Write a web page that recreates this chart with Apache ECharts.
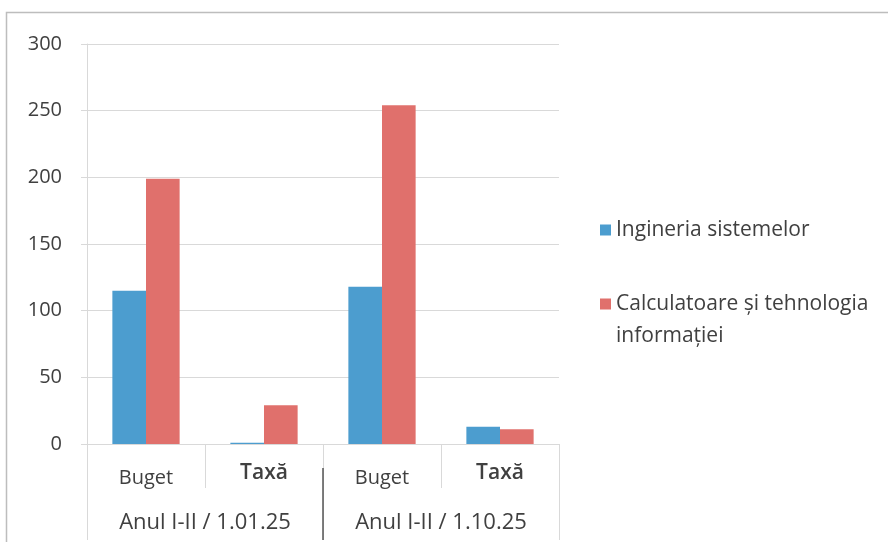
<!DOCTYPE html>
<html>
<head>
<meta charset="utf-8">
<script src="https://cdn.jsdelivr.net/npm/echarts@6/dist/echarts.min.js"></script>
<style>
  html, body { margin: 0; padding: 0; background: #fff; }
  #chart { width: 888px; height: 542px; }
</style>
</head>
<body>
<div id="chart"></div>
<script>
// Categories: admission type within each period
const categories = ['Buget', 'Taxă', 'Buget', 'Taxă'];
// Period groups (second level of the category axis)
const groups = ['Anul I-II / 1.01.25', 'Anul I-II / 1.10.25'];
// Series values
const seriesNames = ['Ingineria sistemelor', 'Calculatoare și tehnologia informației'];
const inginerie = [115, 1, 118, 13];
const calculatoare = [199, 29, 254, 11];
// Value axis ticks
const yMin = 0, yMax = 300, yStep = 50;

const FONT = 'Open Sans';
const TEXT = '#404040';
const GRID = '#d9d9d9';

// square marker sitting at the top of a taller legend item, so a two-line
// label lines its first row up with the marker
const topSquare = 'path://M0,0L11,0L11,11L0,11Z M0,43L11,43Z';

const chart = echarts.init(document.getElementById('chart'), null, { renderer: 'canvas' });

chart.setOption({
  animation: false,
  backgroundColor: '#ffffff',
  textStyle: { fontFamily: FONT },
  grid: { left: 87, top: 44, width: 472, height: 400, containLabel: false },
  legend: [
    {
      data: [seriesNames[0]],
      left: 600, top: 215, padding: 0,
      orient: 'vertical',
      icon: 'rect', itemWidth: 11, itemHeight: 11,
      selectedMode: false,
      textStyle: { fontFamily: FONT, fontSize: 21, color: TEXT, lineHeight: 30 }
    },
    {
      data: [seriesNames[1]],
      left: 600, top: 288, padding: 0,
      orient: 'vertical',
      icon: topSquare, itemWidth: 11, itemHeight: 43,
      selectedMode: false,
      formatter: function (name) { return name.replace(' informației', '\ninformației'); },
      textStyle: { fontFamily: FONT, fontSize: 21, color: TEXT, lineHeight: 32 }
    }
  ],
  xAxis: [
    {
      type: 'category',
      data: categories,
      axisLine: { lineStyle: { color: GRID } },
      axisTick: { show: true, interval: 0, length: 44, lineStyle: { color: GRID } },
      axisLabel: {
        interval: 0,
        margin: 19,
        formatter: function (v) { return v === 'Taxă' ? '{t|' + v + '}' : '{b|' + v + '}'; },
        rich: {
          b: { fontFamily: FONT, fontSize: 20, color: TEXT, padding: [5, 0, 0, 0] },
          t: { fontFamily: FONT, fontSize: 21, fontWeight: 600, color: TEXT }
        }
      }
    },
    {
      type: 'category',
      data: groups,
      position: 'bottom',
      axisLine: { show: false },
      axisTick: { show: true, interval: 0, length: 96, lineStyle: { color: GRID } },
      axisLabel: { interval: 0, margin: 68, fontFamily: FONT, fontSize: 22, color: TEXT }
    },
    {
      // separator between the two periods
      type: 'category',
      data: ['', '', ''],
      boundaryGap: false,
      position: 'bottom',
      offset: 24,
      axisLine: { show: false },
      axisTick: {
        show: true, length: 72,
        interval: function (i) { return i === 1; },
        lineStyle: { color: '#555555', width: 1.5 }
      },
      axisLabel: { show: false }
    }
  ],
  yAxis: {
    type: 'value',
    min: yMin, max: yMax, interval: yStep,
    axisLine: { show: true, lineStyle: { color: GRID } },
    axisTick: { show: true, length: 6, lineStyle: { color: GRID } },
    splitLine: { lineStyle: { color: GRID } },
    axisLabel: { margin: 25, fontFamily: FONT, fontSize: 20, color: TEXT }
  },
  series: [
    {
      name: seriesNames[0], type: 'bar', xAxisIndex: 0,
      data: inginerie, barGap: '0%', barCategoryGap: '43%',
      itemStyle: { color: '#4c9dcf' }
    },
    {
      name: seriesNames[1], type: 'bar', xAxisIndex: 0,
      data: calculatoare, barGap: '0%', barCategoryGap: '43%',
      itemStyle: { color: '#e0706c' }
    }
  ],
  graphic: [
    {
      type: 'polyline', silent: true,
      shape: { points: [[6.5, 542], [6.5, 12.5], [888, 12.5]] },
      style: { stroke: '#bdbdbd', lineWidth: 1.5, fill: null }
    }
  ]
});
</script>
</body>
</html>
